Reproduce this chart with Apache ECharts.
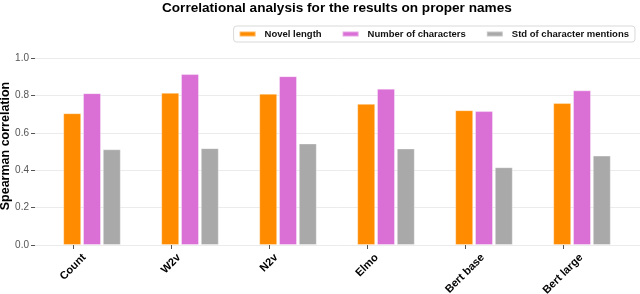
<!DOCTYPE html>
<html>
<head>
<meta charset="utf-8">
<script src="https://cdn.jsdelivr.net/npm/echarts@6/dist/echarts.min.js"></script>
<style>
html,body{margin:0;padding:0;background:#fff;}
#chart{width:640px;height:294px;}
</style>
</head>
<body>
<div id="chart"></div>
<script>
var categories = ['Count', 'W2v', 'N2v', 'Elmo', 'Bert base', 'Bert large'];
var novelLength = [0.705, 0.814, 0.809, 0.755, 0.721, 0.759];
var numberOfCharacters = [0.812, 0.914, 0.903, 0.836, 0.716, 0.827];
var stdCharacterMentions = [0.512, 0.518, 0.543, 0.516, 0.416, 0.478];
var yTicks = [0, 0.2, 0.4, 0.6, 0.8, 1.0];

var FONT = '"Liberation Sans", Arial, Helvetica, sans-serif';
var X_LABEL_SIZE = 11;
var LABEL_TOP = 7;
var chart = echarts.init(document.getElementById('chart'), null, {renderer: 'canvas'});

// Measure label widths so rotated labels can be centred under their tick (matplotlib style)
var ctx = document.createElement('canvas').getContext('2d');
ctx.font = 'bold ' + X_LABEL_SIZE + 'px ' + FONT;
var labelWidths = categories.map(function (c) { return ctx.measureText(c).width; });

var gridTop = 58, gridBottom = 49;
var option = {
  backgroundColor: '#ffffff',
  animation: false,
  title: {
    text: 'Correlational analysis for the results on proper names',
    left: 162, top: 0, padding: [1, 0, 0, 0],
    textStyle: {fontFamily: FONT, fontSize: 13.6, fontWeight: 'bold', color: '#000'}
  },
  legend: {
    data: ['Novel length', 'Number of characters', 'Std of character mentions'],
    right: 5, top: 26,
    padding: [3, 6, 3, 5],
    itemWidth: 16, itemHeight: 5, itemGap: 20,
    icon: 'rect',
    borderColor: '#d9d9d9', borderWidth: 1, borderRadius: 3,
    backgroundColor: '#fff',
    textStyle: {fontFamily: FONT, fontSize: 9.5, fontWeight: 'bold', color: '#111', padding: [0, 0, 0, 4]}
  },
  grid: [
    {left: 35, right: 0, top: gridTop, bottom: gridBottom, outerBoundsMode: 'none', containLabel: false},
    {left: 43, width: 588, top: gridTop, bottom: gridBottom, outerBoundsMode: 'none', containLabel: false},
    {left: 24, width: 588, top: 47, bottom: gridBottom, outerBoundsMode: 'none', containLabel: false}
  ],
  xAxis: [
    {gridIndex: 0, type: 'category', data: categories, show: false},
    {gridIndex: 1, type: 'category', data: categories, show: false},
    {gridIndex: 2, type: 'category', data: categories,
      axisLine: {show: false},
      axisTick: {show: true, alignWithLabel: true, length: 4, lineStyle: {color: '#555'}},
      axisLabel: {show: false}
    }
  ],
  yAxis: [
    {gridIndex: 0, type: 'value', min: yTicks[0], max: yTicks[yTicks.length - 1], interval: 0.2,
      axisLine: {show: false},
      axisTick: {show: true, length: 4, lineStyle: {color: '#555'}},
      axisLabel: {margin: 6, fontFamily: FONT, fontSize: 10, color: '#555',
        formatter: function (v) { return v.toFixed(1); }},
      splitLine: {show: true, lineStyle: {color: '#ebebeb', width: 1}}
    },
    {gridIndex: 1, type: 'value', min: 0, max: 1, show: false},
    {gridIndex: 2, type: 'value', min: 0, max: 1,
      name: 'Spearman correlation', nameLocation: 'middle', nameGap: 12, nameRotate: 90, nameMoveOverlap: false,
      nameTextStyle: {fontFamily: FONT, fontSize: 12.5, fontWeight: 'bold', color: '#000'},
      axisLine: {show: false}, axisTick: {show: false}, axisLabel: {show: false}, splitLine: {show: false}
    }
  ],
  series: [
    {name: 'Novel length', type: 'bar', xAxisIndex: 1, yAxisIndex: 1, data: novelLength,
      barWidth: 18, barGap: '10%',
      itemStyle: {color: '#ff8c00', borderColor: 'rgba(255,255,255,0.35)', borderWidth: 1}},
    {name: 'Number of characters', type: 'bar', xAxisIndex: 1, yAxisIndex: 1, data: numberOfCharacters,
      barWidth: 18, barGap: '10%',
      itemStyle: {color: '#da70d6', borderColor: 'rgba(255,255,255,0.35)', borderWidth: 1}},
    {name: 'Std of character mentions', type: 'bar', xAxisIndex: 1, yAxisIndex: 1, data: stdCharacterMentions,
      barWidth: 18, barGap: '10%',
      itemStyle: {color: '#a9a9a9', borderColor: 'rgba(255,255,255,0.35)', borderWidth: 1}},
    {name: 'x labels', type: 'custom', xAxisIndex: 2, yAxisIndex: 2, silent: true, clip: false, z: 10,
      data: categories.map(function (c) { return [c, 0]; }),
      encode: {x: 0, y: 1},
      renderItem: function (params, api) {
        var idx = params.dataIndex;
        var p = api.coord([api.value(0), 0]);
        var w = labelWidths[idx];
        var base = api.coord([0, 0])[1];
        var cy = p[1] + LABEL_TOP + Math.SQRT1_2 * (w + X_LABEL_SIZE) / 2;
        return {
          type: 'text', x: p[0], y: cy, rotation: Math.PI / 4,
          style: {text: categories[idx], x: 0, y: 0, align: 'center', verticalAlign: 'middle',
            fontFamily: FONT, fontSize: X_LABEL_SIZE, fontWeight: 'bold', fill: '#000'}
        };
      }
    }
  ]
};
chart.setOption(option);
</script>
</body>
</html>
